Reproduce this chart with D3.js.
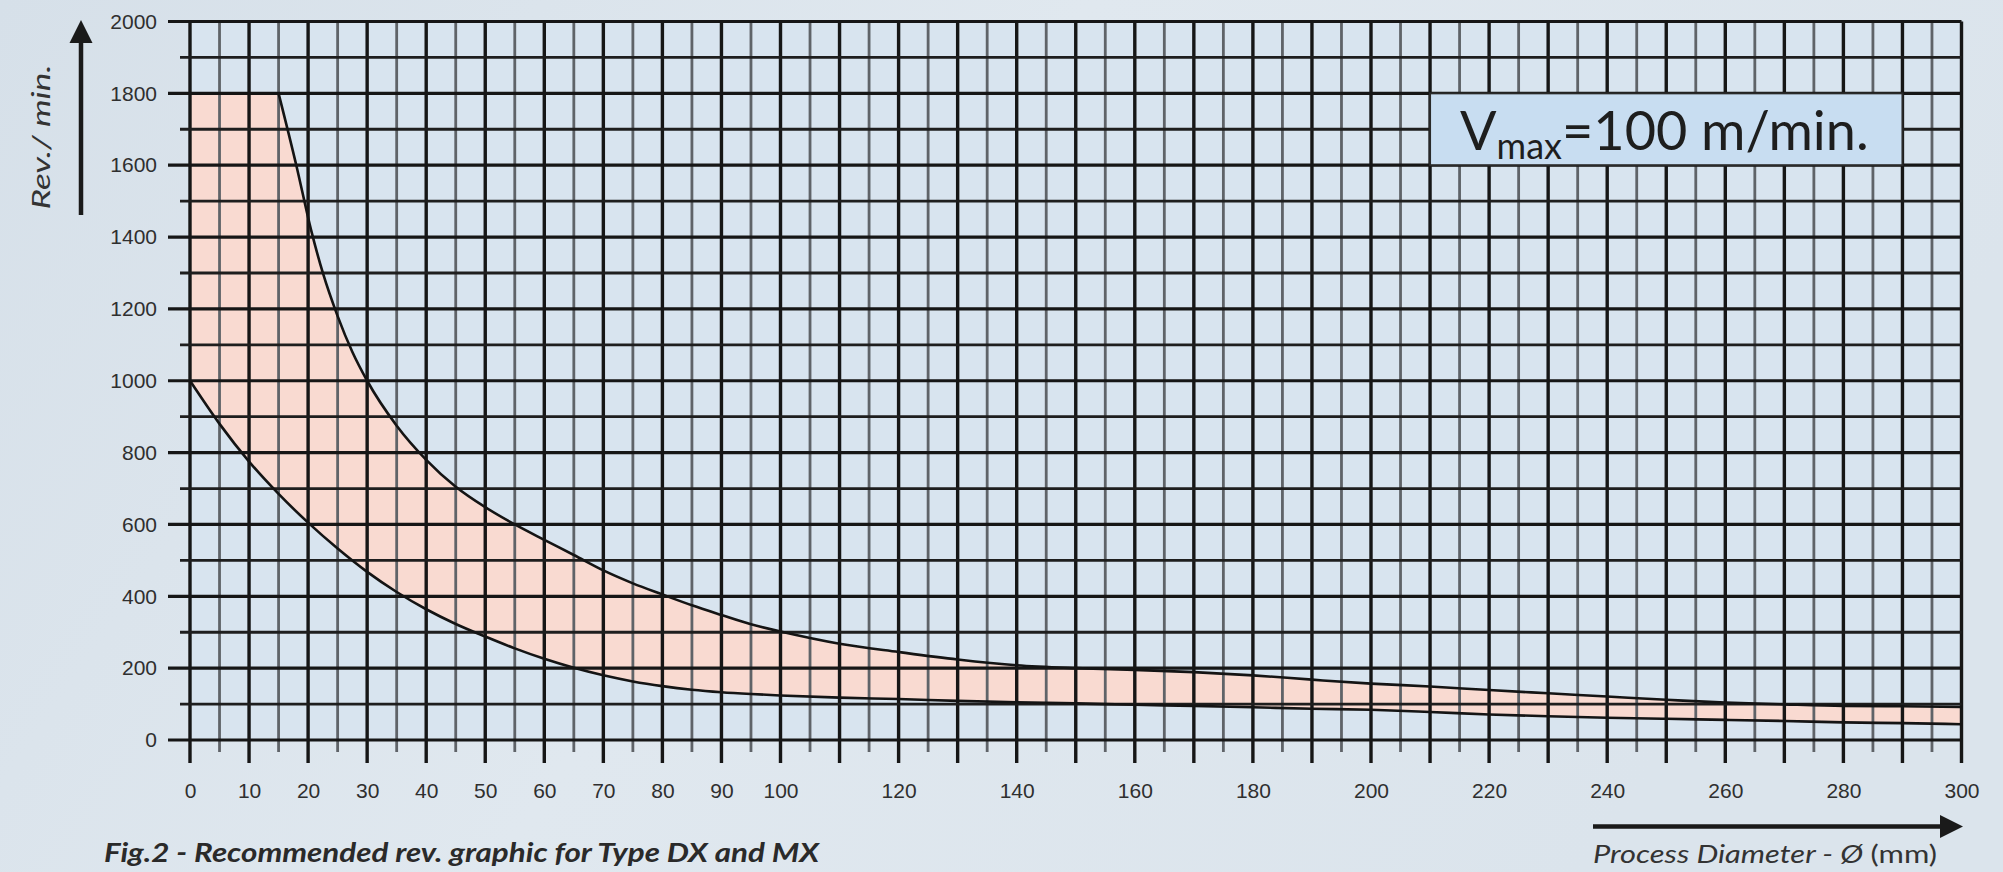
<!DOCTYPE html>
<html>
<head>
<meta charset="utf-8">
<script src="https://cdn.jsdelivr.net/npm/d3@7"></script>
<style>
  html, body { margin: 0; padding: 0; }
  body { width: 2003px; height: 872px; overflow: hidden; background: #dde5ec; }
  .tick text { font-family: "Liberation Sans", Arial, sans-serif; font-size: 21px; fill: #2f2f2f; }
</style>
</head>
<body>
<div id="chart"></div>
<script>
// rev/min limits against process diameter (mm)
const yTicks = [0, 200, 400, 600, 800, 1000, 1200, 1400, 1600, 1800, 2000];
const xTickLabels = [0, 10, 20, 30, 40, 50, 60, 70, 80, 90, 100, 120, 140, 160, 180, 200, 220, 240, 260, 280, 300];

const upperDiam = [0, 15, 18, 20.5, 22.5, 25, 27.5, 30, 35, 40, 45, 50, 55, 60, 65, 70, 75, 80, 85, 90, 95, 100,
  110, 120, 130, 140, 150, 160, 170, 180, 190, 200, 210, 220, 230, 240, 250, 260, 270, 280, 290, 300];
const upperRev = [1800, 1800, 1600, 1420, 1300, 1180, 1080, 1000, 875, 780, 705, 648, 600, 557, 515, 472, 436, 405, 375, 348, 322, 302,
  268, 245, 224, 208, 200, 195, 189, 180, 168, 157, 149, 139, 130, 121, 112, 104, 99, 95, 94, 92];

const lowerDiam = [0, 5, 10, 15, 20, 25, 30, 35, 40, 45, 50, 55, 60, 65, 70, 75, 80, 85, 90, 95, 100,
  110, 120, 130, 140, 150, 160, 170, 180, 190, 200, 210, 220, 230, 240, 250, 260, 270, 280, 290, 300];
const lowerRev = [1000, 880, 775, 685, 605, 533, 468, 412, 364, 323, 288, 255, 226, 201, 180, 163, 150, 140, 133, 128, 124,
  118, 114, 109, 105, 102, 98, 95, 91, 87, 84, 78, 71, 66, 62, 59, 56, 53, 49, 47, 44];

const width = 2003, height = 872;

const svg = d3.select('#chart')
  .append('svg')
  .attr('width', width)
  .attr('height', height);

const defs = svg.append('defs');
const bg = defs.append('linearGradient').attr('id', 'bg').attr('x1', 0).attr('x2', 1).attr('y1', 0).attr('y2', 0.3);
bg.append('stop').attr('offset', 0).attr('stop-color', '#d6e0e9');
bg.append('stop').attr('offset', 0.5).attr('stop-color', '#e0e8ef');
bg.append('stop').attr('offset', 1).attr('stop-color', '#dbe4ec');

svg.append('rect').attr('width', width).attr('height', height).attr('fill', 'url(#bg)');

const x = d3.scaleLinear().domain([0, 300]).range([190, 1961.5]);
const y = d3.scaleLinear().domain([0, 2000]).range([740, 21.5]);

// plot background
svg.append('rect')
  .attr('x', x(0)).attr('y', y(2000))
  .attr('width', x(300) - x(0)).attr('height', y(0) - y(2000))
  .attr('fill', '#d8e4ef');

// band between min and max rev
const lineSmooth = d3.line()
  .x(d => x(d[0]))
  .y(d => y(d[1]))
  .curve(d3.curveMonotoneX);

const upperPts = upperDiam.map((d, i) => [d, upperRev[i]]);
const lowerPts = lowerDiam.map((d, i) => [d, lowerRev[i]]);

// flat part is straight, the rest is smoothed
const plateau = `M${x(upperPts[0][0])},${y(upperPts[0][1])}`;
const declinePath = lineSmooth(upperPts.slice(1));
const upperPath = plateau + 'L' + declinePath.slice(1);
const lowerBack = lineSmooth(lowerPts.slice().reverse());

svg.append('path')
  .attr('d', upperPath + 'L' + lowerBack.slice(1) + 'Z')
  .attr('fill', '#f9dad1');

// grid
const grid = svg.append('g');

grid.selectAll('.vminor')
  .data(d3.range(5, 300, 10))
  .enter().append('line')
  .attr('x1', d => x(d)).attr('x2', d => x(d))
  .attr('y1', y(2000)).attr('y2', y(0) + 12)
  .attr('stroke', '#5f6368')
  .attr('stroke-width', 2.8);

grid.selectAll('.vmajor')
  .data(d3.range(0, 301, 10))
  .enter().append('line')
  .attr('x1', d => x(d)).attr('x2', d => x(d))
  .attr('y1', y(2000)).attr('y2', y(0) + 23)
  .attr('stroke', '#161616')
  .attr('stroke-width', 3.4);

grid.selectAll('.hminor')
  .data(d3.range(100, 2000, 200))
  .enter().append('line')
  .attr('x1', 180).attr('x2', x(300))
  .attr('y1', d => y(d)).attr('y2', d => y(d))
  .attr('stroke', '#1e1e1e')
  .attr('stroke-width', 2.8);

grid.selectAll('.hmajor')
  .data(d3.range(0, 2001, 200))
  .enter().append('line')
  .attr('x1', 168).attr('x2', x(300))
  .attr('y1', d => y(d)).attr('y2', d => y(d))
  .attr('stroke', '#161616')
  .attr('stroke-width', 3.2);

// curves
svg.append('path')
  .attr('d', upperPath)
  .attr('fill', 'none')
  .attr('stroke', '#141414')
  .attr('stroke-width', 2.6);

svg.append('path')
  .attr('d', lineSmooth(lowerPts))
  .attr('fill', 'none')
  .attr('stroke', '#141414')
  .attr('stroke-width', 2.6);

// axes (labels only)
svg.append('g')
  .attr('transform', `translate(168,0)`)
  .call(d3.axisLeft(y).tickValues(yTicks).tickFormat(d3.format('d')).tickSize(0).tickPadding(11))
  .call(g => g.select('.domain').remove());

svg.append('g')
  .attr('transform', `translate(0,${y(0)})`)
  .call(d3.axisBottom(x).tickValues(xTickLabels).tickFormat(d3.format('d')).tickSize(0).tickPadding(43))
  .call(g => g.select('.domain').remove());

// Vmax box
const box = svg.append('g');
box.append('rect')
  .attr('x', x(210)).attr('y', y(1800))
  .attr('width', x(290) - x(210)).attr('height', y(1600) - y(1800))
  .attr('fill', '#c8ddf1')
  .attr('stroke', '#2a2a2a')
  .attr('stroke-width', 2);

const vt = box.append('text')
  .attr('x', 1460).attr('y', 150)
  .attr('font-family', 'Lato, "Open Sans", sans-serif')
  .attr('font-size', 54)
  .attr('fill', '#1e1e1e');
vt.append('tspan').text('V');
vt.append('tspan').attr('font-size', 36).attr('dy', 9).text('max');
vt.append('tspan').attr('dy', -9).text('=100 m/min.');

// axis titles and arrows
const arrowColor = '#1a1a1a';
svg.append('line')
  .attr('x1', 81).attr('x2', 81).attr('y1', 215).attr('y2', 38)
  .attr('stroke', arrowColor).attr('stroke-width', 4.5);
svg.append('path')
  .attr('d', 'M81,20 L69.5,43 L92.5,43 Z')
  .attr('fill', arrowColor);

svg.append('text')
  .attr('transform', 'translate(50,137) rotate(-90)')
  .attr('text-anchor', 'middle')
  .attr('font-family', 'Lato, "Open Sans", sans-serif')
  .attr('font-style', 'italic')
  .attr('font-size', 25)
  .attr('fill', '#333')
  .attr('textLength', 145)
  .attr('lengthAdjust', 'spacingAndGlyphs')
  .text('Rev./ min.');

svg.append('line')
  .attr('x1', 1593).attr('x2', 1944).attr('y1', 826.5).attr('y2', 826.5)
  .attr('stroke', arrowColor).attr('stroke-width', 4.5);
svg.append('path')
  .attr('d', 'M1963,826.5 L1940,815 L1940,838 Z')
  .attr('fill', arrowColor);

const xt = svg.append('text')
  .attr('x', 1593).attr('y', 863)
  .attr('font-family', 'Lato, "Open Sans", sans-serif')
  .attr('font-size', 25)
  .attr('fill', '#333')
  .attr('textLength', 344)
  .attr('lengthAdjust', 'spacingAndGlyphs');
xt.append('tspan').attr('font-style', 'italic').text('Process Diameter - Ø ');
xt.append('tspan').text('(mm)');

svg.append('text')
  .attr('x', 104).attr('y', 862)
  .attr('font-family', 'Lato, "Open Sans", sans-serif')
  .attr('font-style', 'italic')
  .attr('font-weight', 'bold')
  .attr('font-size', 26)
  .attr('fill', '#2a2a2a')
  .attr('textLength', 715)
  .attr('lengthAdjust', 'spacingAndGlyphs')
  .text('Fig.2 - Recommended rev. graphic for Type DX and MX');
</script>
</body>
</html>
